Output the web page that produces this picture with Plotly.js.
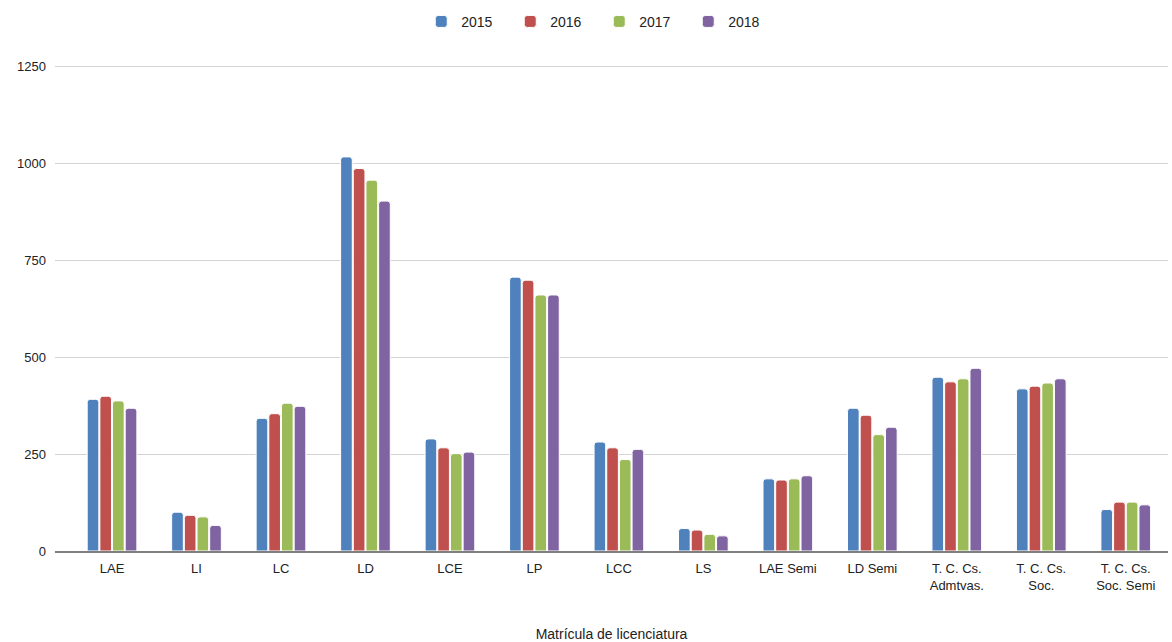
<!DOCTYPE html>
<html><head><meta charset="utf-8">
<script src="https://cdn.plot.ly/plotly-3.0.1.min.js"></script>
<style>html,body{margin:0;padding:0;background:#fff}#chart{width:1172px;height:642px}</style>
</head><body><div id="chart"></div>
<script>
const categories = ["LAE","LI","LC","LD","LCE","LP","LCC","LS","LAE Semi","LD Semi","T. C. Cs.<br>Admtvas.","T. C. Cs.<br>Soc.","T. C. Cs.<br>Soc. Semi"];
const years = ["2015","2016","2017","2018"];
const v2015 = [391,100,342,1016,289,706,281,58,186,368,448,418,107];
const v2016 = [399,92,354,986,266,698,266,54,183,350,436,425,126];
const v2017 = [387,88,381,956,251,660,236,43,186,300,444,433,126];
const v2018 = [368,66,373,902,255,660,262,39,194,319,471,444,119];
const colors = ["#4f81bd","#c0504d","#9bbb59","#8064a2"];
const series = [v2015,v2016,v2017,v2018];

const traces = series.map((vals,i)=>({
  type:"bar", name:years[i], x:categories.map((c,k)=>k), y:vals,
  marker:{color:colors[i], line:{color:"#ffffff", width:1}},
  hoverinfo:"y"
}));

const layout = {
  width:1172, height:642,
  margin:{l:55, r:4, t:63, b:91, autoexpand:false},
  paper_bgcolor:"#fff", plot_bgcolor:"#fff",
  font:{family:"Liberation Sans, Arial, sans-serif", size:13, color:"#222"},
  barmode:"group", bargap:0.4, bargroupgap:0.08, barcornerradius:3,
  showlegend:true,
  legend:{orientation:"h", x:0.489, xanchor:"center", yref:"container", y:0.966, yanchor:"middle",
          font:{size:14}, entrywidth:44, entrywidthmode:"pixels", traceorder:"normal"},
  xaxis:{
    tickmode:"array", tickvals:categories.map((c,k)=>k), ticktext:categories,
    range:[-0.675,12.5], showgrid:false, zeroline:false,
    showline:true, linecolor:"#7f7f7f", linewidth:2, ticks:"",
    tickfont:{size:13, color:"#222"}, ticklabelstandoff:4,
    title:{text:"Matrícula de licenciatura", font:{size:14, color:"#222"}, standoff:40}
  },
  yaxis:{
    range:[0,1258], tickvals:[0,250,500,750,1000,1250], ticktext:["0","250","500","750","1000","1250"],
    showgrid:true, gridcolor:"#d4d4d4", gridwidth:1, zeroline:false, showline:false,
    ticks:"", tickfont:{size:13, color:"#222"}, ticklabelstandoff:8
  }
};
Plotly.newPlot("chart", traces, layout, {displayModeBar:false, staticPlot:true});
</script></body></html>
